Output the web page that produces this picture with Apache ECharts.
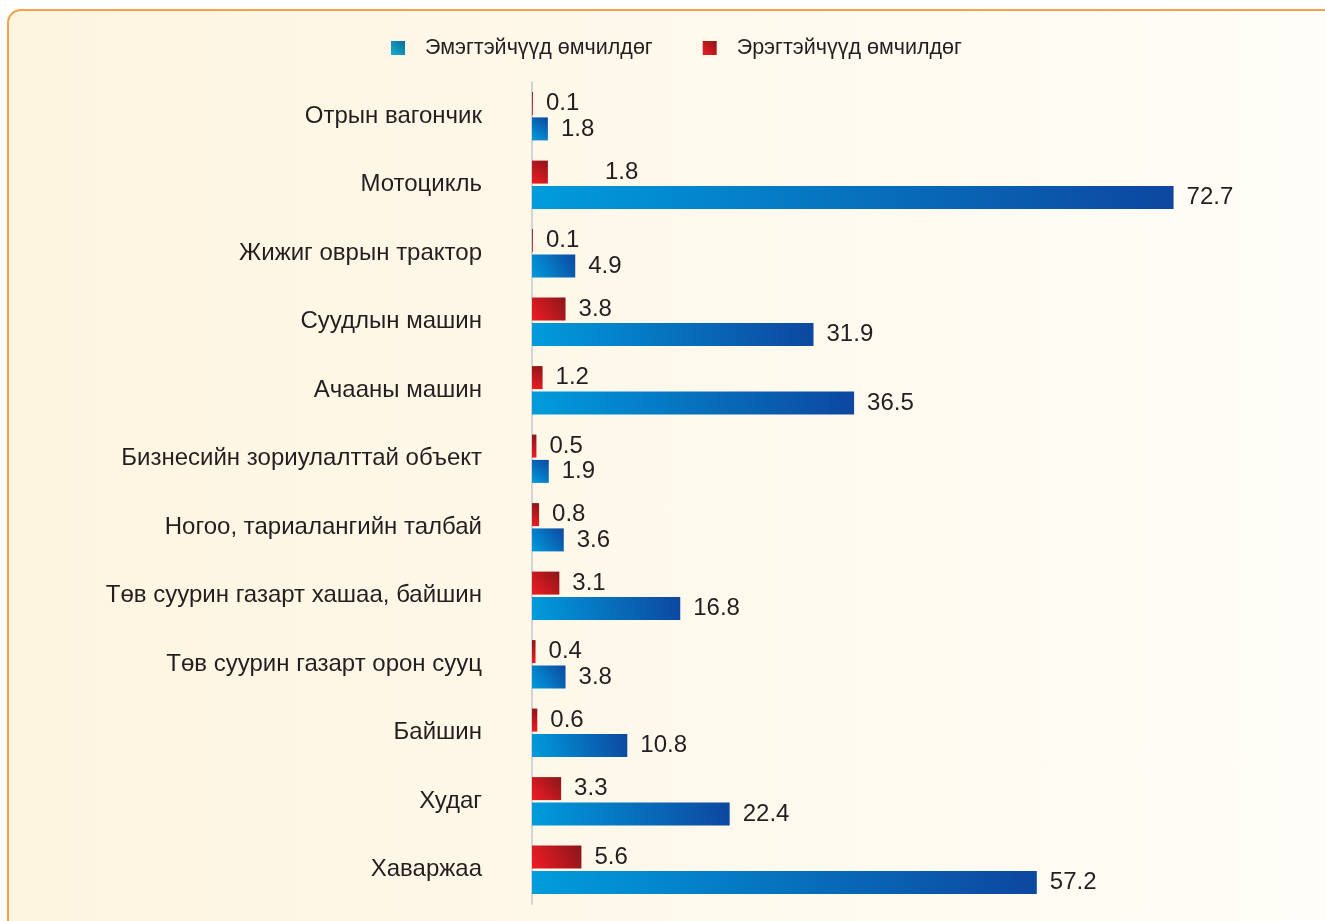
<!DOCTYPE html>
<html>
<head>
<meta charset="utf-8">
<script src="https://cdn.jsdelivr.net/npm/echarts@6/dist/echarts.min.js"></script>
<style>
	html, body { margin: 0; padding: 0; width: 1325px; height: 921px; overflow: hidden; background: #fff; }
	#panel {
		position: absolute; left: 7px; top: 9px; width: 1340px; height: 940px;
		border: 2px solid #F6A04C; border-radius: 14px; box-sizing: border-box;
		background: linear-gradient(to right, #FEF5E0, #FFFDF8);
	}
	#main { position: absolute; left: 0; top: 0; width: 1325px; height: 921px; }
</style>
</head>
<body>
<div id="panel"></div>
<div id="main"></div>
<script>
// категориуд
var categories = ['Отрын вагончик', 'Мотоцикль', 'Жижиг оврын трактор', 'Суудлын машин', 'Ачааны машин',
	'Бизнесийн зориулалттай объект', 'Ногоо, тариалангийн талбай', 'Төв суурин газарт хашаа, байшин',
	'Төв суурин газарт орон сууц', 'Байшин', 'Худаг', 'Хаваржаа'];
// эмэгтэйчүүд
var women = [1.8, 72.7, 4.9, 31.9, 36.5, 1.9, 3.6, 16.8, 3.8, 10.8, 22.4, 57.2];
// эрэгтэйчүүд
var men = [0.1, 1.8, 0.1, 3.8, 1.2, 0.5, 0.8, 3.1, 0.4, 0.6, 3.3, 5.6];

var myChart = echarts.init(document.getElementById('main'));

var blueGrad = new echarts.graphic.LinearGradient(0, 1, 1, 0, [
	{ offset: 0, color: '#009CDC' },
	{ offset: 1, color: '#0D47A0' }
]);
var redGrad = new echarts.graphic.LinearGradient(0, 1, 1, 0, [
	{ offset: 0, color: '#F01C24' },
	{ offset: 1, color: '#8A1619' }
]);

var labelStyle = {
	show: true,
	position: 'right',
	distance: 13,
	color: '#231F20',
	fontSize: 24,
	fontFamily: 'Liberation Sans'
};

// Мотоцикль-ийн эрэгтэй шошго нь баруун тийш зөрсөн
var menData = men.map(function (v, i) {
	if (i === 1) {
		return { value: v, label: { offset: [44, 0] } };
	}
	return v;
});

var option = {
	backgroundColor: 'transparent',
	animation: false,
	legend: {
		top: 32,
		left: 386,
		itemWidth: 14,
		itemHeight: 14,
		itemGap: 50,
		textStyle: { color: '#231F20', fontSize: 21.5, fontFamily: 'Liberation Sans', padding: [0, 0, 0, 15] },
		data: [
			{ name: 'Эмэгтэйчүүд өмчилдөг', icon: 'rect', itemStyle: { color: new echarts.graphic.LinearGradient(0, 1, 1, 0, [{ offset: 0, color: '#18B0D0' }, { offset: 1, color: '#0A6A9C' }]) } },
			{ name: 'Эрэгтэйчүүд өмчилдөг', icon: 'rect' }
		]
	},
	grid: {
		left: 532,
		right: 87,
		top: 82,
		height: 822
	},
	xAxis: {
		type: 'value',
		min: 0,
		max: 80,
		show: false
	},
	yAxis: {
		type: 'category',
		inverse: true,
		data: categories,
		axisLine: { show: true, lineStyle: { color: '#D3D3D3', width: 2 } },
		axisTick: { show: false },
		axisLabel: {
			margin: 50,
			color: '#231F20',
			fontSize: 24,
			fontFamily: 'Liberation Sans'
		}
	},
	// эрэгтэй нь дээр, эмэгтэй нь доор
	series: [{
		name: 'Эрэгтэйчүүд өмчилдөг',
		type: 'bar',
		barWidth: 23,
		barGap: '10%',
		itemStyle: { color: redGrad },
		label: labelStyle,
		data: menData
	}, {
		name: 'Эмэгтэйчүүд өмчилдөг',
		type: 'bar',
		barWidth: 23,
		barGap: '10%',
		itemStyle: { color: blueGrad },
		label: labelStyle,
		data: women
	}]
};

myChart.setOption(option);
</script>
</body>
</html>
